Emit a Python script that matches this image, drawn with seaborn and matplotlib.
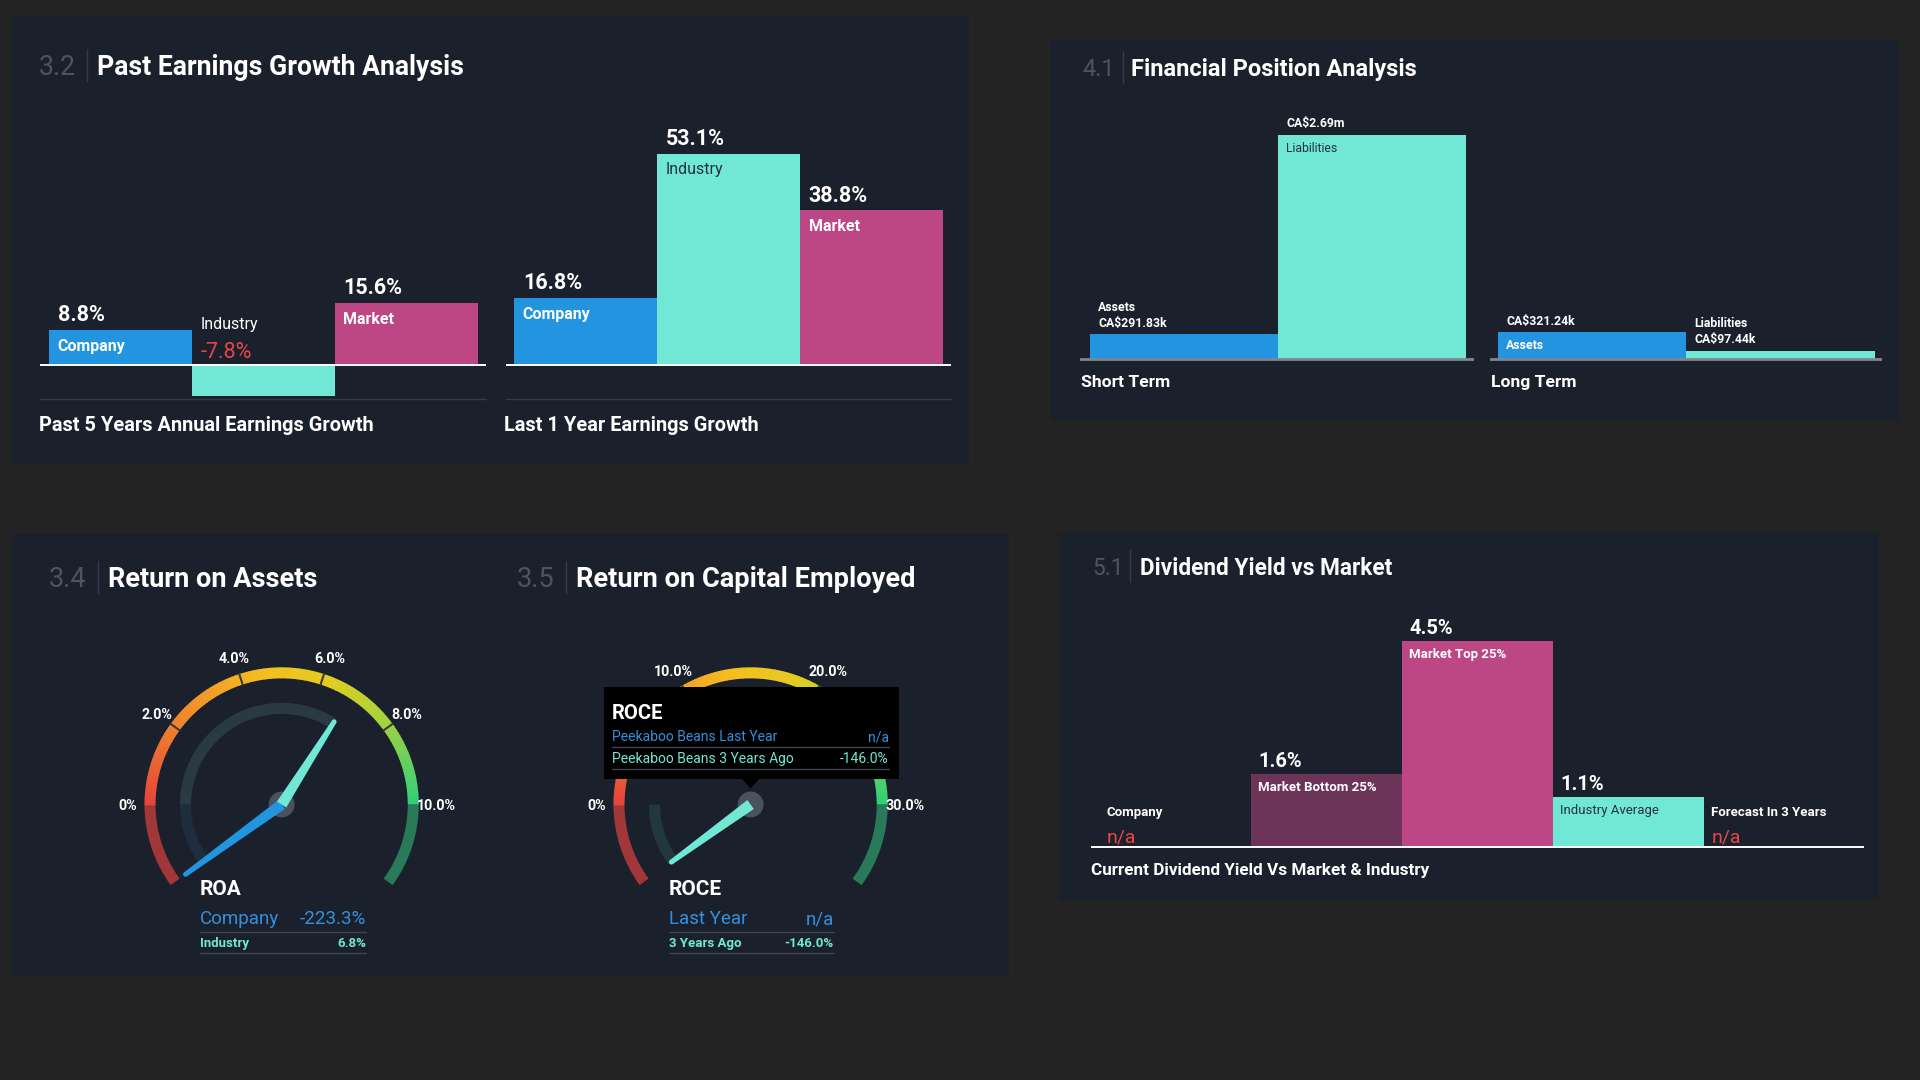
import numpy as np
import pandas as pd
import matplotlib.pyplot as plt
import seaborn as sns
from matplotlib.patches import Rectangle, Wedge, Polygon, Circle
from matplotlib.colors import LinearSegmentedColormap

# ---- data ----
growth_cats = ["Company", "Industry", "Market"]
growth_5y = [8.8, -7.8, 15.6]
growth_1y = [16.8, 53.1, 38.8]

fin_cats = ["Assets", "Liabilities"]
fin_short = [291.83, 2690.0]   # CA$ thousands
fin_long = [321.24, 97.44]
fin_short_txt = ["CA$291.83k", "CA$2.69m"]
fin_long_txt = ["CA$321.24k", "CA$97.44k"]

roa_ticks = [0, 2, 4, 6, 8, 10]
roa_company = -223.3
roa_industry = 6.8
roce_ticks = [0, 10, 20, 30]
roce_last_year = None
roce_3y_ago = -146.0

div_cats = ["Company", "Market Bottom 25%", "Market Top 25%", "Industry Average", "Forecast In 3 Years"]
div_values = [np.nan, 1.6, 4.5, 1.1, np.nan]

# ---- colours ----
BG = "#232323"
PANEL = "#1b212c"
BLUE = "#2394df"
TEAL = "#71e7d6"
PINK = "#bd4685"
PLUM = "#6c3459"
RED = "#e64646"
NUMGREY = "#4d5360"
LINEGREY = "#353b46"
DARKTXT = "#24323a"
TXTBLUE = "#3490dc"

sns.set_theme(style="dark")
plt.rcParams["font.family"] = ["Roboto", "DejaVu Sans"]

W, H = 1568, 882            # layout units (screenshot scale)
PT = 1920 / W * 0.72        # one layout unit in points
VA = "center_baseline"

fig = plt.figure(figsize=(19.2, 10.8), dpi=100, facecolor=BG)


def ax_at(x0, y0, x1, y1, z=1):
    ax = fig.add_axes([x0 / W, 1 - y1 / H, (x1 - x0) / W, (y1 - y0) / H], zorder=z)
    ax.set_axis_off()
    return ax


bg = ax_at(0, 0, W, H, z=0)
bg.set_xlim(0, W)
bg.set_ylim(H, 0)
top = ax_at(0, 0, W, H, z=10)
top.set_xlim(0, W)
top.set_ylim(H, 0)


def panel(x0, y0, x1, y1):
    bg.add_patch(Rectangle((x0, y0), x1 - x0, y1 - y0, color=PANEL, lw=0))


def title(xn, xs, xt, y, num, text, size):
    bg.text(xn, y, num, color=NUMGREY, fontsize=size, va=VA)
    bg.plot([xs, xs], [y - 13, y + 13], color=LINEGREY, lw=1)
    bg.text(xt, y, text, color="white", fontsize=size, fontweight="bold", va=VA)


def caption(x, y, text, size):
    bg.text(x, y, text, color="white", fontsize=size, fontweight="bold", va=VA)


def hline(x0, x1, y, color=LINEGREY, lw=1, on=bg):
    on.plot([x0, x1], [y, y], color=color, lw=lw)


def label(ax, text, xy, dx, dy, size, color="white", weight="bold"):
    ax.annotate(text, xy, xytext=(dx * PT, dy * PT), textcoords="offset points",
                ha="left", va=VA, fontsize=size, color=color, fontweight=weight)


def bar_chart(lx0, lx1, bx0, bx1, base, ppu, ylo, yhi, cats, values, colors,
              line_color="white", line_w=1.4):
    ax = ax_at(lx0, base - yhi * ppu, lx1, base - ylo * ppu)
    df = pd.DataFrame({"cat": cats, "value": values})
    sns.barplot(data=df, x="cat", y="value", order=cats, hue="cat", hue_order=cats,
                palette=dict(zip(cats, colors)), width=1.0, saturation=1,
                linewidth=0, errorbar=None, legend=False, ax=ax)
    n = len(cats)
    unit = (bx1 - bx0) / n
    ax.set_xlim(-0.5 - (bx0 - lx0) / unit, n - 0.5 + (lx1 - bx1) / unit)
    ax.set_ylim(ylo, yhi)
    ax.axhline(0, color=line_color, lw=line_w, zorder=3)
    ax.set_axis_off()
    return ax


# ---- panel backgrounds ----
panel(10, 12, 791, 380)
panel(858, 33, 1551, 344)
panel(10, 436, 824, 797)
panel(866, 435, 1534, 735)

# ---- 3.2 Past Earnings Growth ----
title(32, 71, 79, 53, "3.2", "Past Earnings Growth Analysis", 19.2)

for lx0, lx1, vals, cap in [(33, 397, growth_5y, "Past 5 Years Annual Earnings Growth"),
                            (413, 777, growth_1y, "Last 1 Year Earnings Growth")]:
    ax = bar_chart(lx0, lx1, lx0 + 7, lx1 - 7, 298, 3.25, -10, 60,
                   growth_cats, vals, [BLUE, TEAL, PINK])
    for i, (cat, v) in enumerate(zip(growth_cats, vals)):
        on_teal = cat == "Industry"
        if v >= 0:
            label(ax, f"{v:.1f}%", (i - 0.5, v), 7, 14, 15.5)
            label(ax, cat, (i - 0.5, v), 7, -12, 11.5,
                  color=DARKTXT if on_teal else "white",
                  weight="normal" if on_teal else "bold")
        else:
            label(ax, cat, (i - 0.5, 0), 7, 34, 11.5, weight="normal")
            label(ax, f"{v:.1f}%", (i - 0.5, 0), 7, 12, 15.5, color=RED, weight="normal")
    hline(lx0, lx1, 326)
    caption(lx0 - 1, 346, cap, 14.4)

# ---- 4.1 Financial Position ----
title(884, 917, 924, 55, "4.1", "Financial Position Analysis", 17)
FIN_PPU = 183 / 2690

for lx0, lx1, bx0, bx1, vals, txts, cap in [
        (882, 1204, 890, 1197, fin_short, fin_short_txt, "Short Term"),
        (1217, 1537, 1223, 1531, fin_long, fin_long_txt, "Long Term")]:
    ax = bar_chart(lx0, lx1, bx0, bx1, 293, FIN_PPU, -60, 2950,
                   fin_cats, vals, [BLUE, TEAL], line_color="#80858e", line_w=2)
    for i, (cat, v, t) in enumerate(zip(fin_cats, vals, txts)):
        on_teal = cat == "Liabilities"
        label(ax, t, (i - 0.5, v), 7, 10, 8.8)
        if v >= 300:
            label(ax, cat, (i - 0.5, v), 7, -10, 8.8,
                  color=DARKTXT if on_teal else "white",
                  weight="normal" if on_teal else "bold")
        else:
            label(ax, cat, (i - 0.5, v), 7, 23, 8.8)
    caption(lx0 + 1, 311, cap, 12.6)

# ---- 5.1 Dividend Yield ----
title(892, 923, 931, 462, "5.1", "Dividend Yield vs Market", 16.3)
ax = bar_chart(891, 1522, 898, 1515, 692, 37.5, -0.1, 5.2,
               div_cats, div_values, [BLUE, PLUM, PINK, TEAL, BLUE])
for i, (cat, v) in enumerate(zip(div_cats, div_values)):
    if np.isnan(v):
        label(ax, cat, (i - 0.5, 0), 6, 30, 9.5)
        label(ax, "n/a", (i - 0.5, 0), 6, 10, 14, color=RED, weight="normal")
    else:
        on_teal = cat == "Industry Average"
        label(ax, f"{v:.1f}%", (i - 0.5, v), 6, 12, 14.5)
        label(ax, cat, (i - 0.5, v), 6, -10, 9.5,
              color=DARKTXT if on_teal else "white",
              weight="normal" if on_teal else "bold")
caption(891, 710, "Current Dividend Yield Vs Market & Industry", 12.3)

# ---- 3.4 / 3.5 gauges ----
title(40, 80, 88, 471, "3.4", "Return on Assets", 19.5)
title(422, 462, 470, 471, "3.5", "Return on Capital Employed", 19.6)

GAUGE = LinearSegmentedColormap.from_list(
    "gauge", [(0, "#e5463a"), (0.22, "#f0872e"), (0.45, "#f5bd1f"),
              (0.62, "#e3cc22"), (0.78, "#a9d33c"), (1, "#33cf78")])


def fmt(v):
    return "n/a" if v is None else f"{v:.1f}%"


def gauge(cx, cy, ticks, fills, needles):
    ax = ax_at(cx - 160, cy - 160, cx + 160, cy + 160, z=2)
    ax.set_xlim(-160, 160)
    ax.set_ylim(-160, 160)
    ax.set_aspect("equal")
    vmax = ticks[-1]

    def ang(v):
        return 180 - np.clip(v, -0.2 * vmax, 1.2 * vmax) / vmax * 180

    ax.add_patch(Wedge((0, 0), 112, 180, ang(-0.2 * vmax), width=9, color="#a2373a", lw=0))
    ax.add_patch(Wedge((0, 0), 112, ang(1.2 * vmax), 0, width=9, color="#287a59", lw=0))
    n = 120
    for k in range(n):
        a1 = 180 - (k + 1) * 180 / n
        ax.add_patch(Wedge((0, 0), 112, a1, a1 + 180 / n + 0.4, width=9,
                           color=GAUGE(k / (n - 1)), lw=0))
    for t in ticks[1:-1]:
        a = np.radians(ang(t))
        ax.plot([103 * np.cos(a), 112 * np.cos(a)], [103 * np.sin(a), 112 * np.sin(a)],
                color="#3b3a30", lw=1.5)
    for t in ticks:
        a = np.radians(ang(t))
        ax.text(126 * np.cos(a), 126 * np.sin(a), "0%" if t == 0 else f"{t:.1f}%",
                ha="center", va=VA, color="white", fontsize=10.3, fontweight="bold")
    for v, c in fills:
        if v is None:
            continue
        a = ang(v)
        t1, t2 = (a, 180) if v >= 0 else (180, a)
        ax.add_patch(Wedge((0, 0), 83, t1, t2, width=9, color=c, lw=0))
    ax.add_patch(Circle((0, 0), 10, color="#4a525d", zorder=3))
    for v, length, c in needles:
        if v is None:
            continue
        a = np.radians(ang(v))
        d = np.array([np.cos(a), np.sin(a)])
        p = np.array([-d[1], d[0]])
        pts = [p * 4.5, d * length + p * 2, d * length - p * 2, -p * 4.5]
        ax.add_patch(Polygon(pts, closed=True, color=c, lw=0, zorder=4))
        ax.add_patch(Circle(d * length, 2, color=c, lw=0, zorder=4))
    return ax


gauge(230, 657, roa_ticks, [(roa_company, "#1e2c3c"), (roa_industry, "#2a3a44")],
      [(roa_company, 97, BLUE), (roa_industry, 80, TEAL)])
gauge(613, 657, roce_ticks, [(roce_last_year, "#1e2c3c"), (roce_3y_ago, "#23383d")],
      [(roce_last_year, 97, BLUE), (roce_3y_ago, 80, TEAL)])


def gauge_legend(x0, x1, name, first, v1, second, v2):
    bg.text(x0, 725, name, color="white", fontsize=15, fontweight="bold", va=VA)
    bg.text(x0, 749, first, color=TXTBLUE, fontsize=13.5, va=VA)
    bg.text(x1, 749, fmt(v1), color=TXTBLUE, fontsize=13.5, va=VA, ha="right")
    hline(x0, x1, 761, color="#3d4450")
    bg.text(x0, 769, second, color=TEAL, fontsize=9.5, fontweight="bold", va=VA)
    bg.text(x1, 769, fmt(v2), color=TEAL, fontsize=9.5, fontweight="bold", va=VA, ha="right")
    hline(x0, x1, 778, color="#3d4450")


gauge_legend(163, 299, "ROA", "Company", roa_company, "Industry", roa_industry)
gauge_legend(546, 681, "ROCE", "Last Year", roce_last_year, "3 Years Ago", roce_3y_ago)

# tooltip over the ROCE gauge
top.add_patch(Rectangle((493, 561), 241, 75, color="black", lw=0))
top.add_patch(Polygon([(605, 635), (621, 635), (613, 644)], closed=True, color="black", lw=0))
top.text(500, 581, "ROCE", color="white", fontsize=14.5, fontweight="bold", va=VA)
top.text(500, 601, "Peekaboo Beans Last Year", color=TXTBLUE, fontsize=10, va=VA)
top.text(726, 601, fmt(roce_last_year), color=TXTBLUE, fontsize=10, va=VA, ha="right")
hline(500, 726, 610, color="#3d4450", on=top)
top.text(500, 619, "Peekaboo Beans 3 Years Ago", color=TEAL, fontsize=10, va=VA)
top.text(726, 619, fmt(roce_3y_ago), color=TEAL, fontsize=10, va=VA, ha="right")
hline(500, 726, 628, color="#3d4450", on=top)

fig.savefig("out.png", dpi=100, facecolor=BG)
